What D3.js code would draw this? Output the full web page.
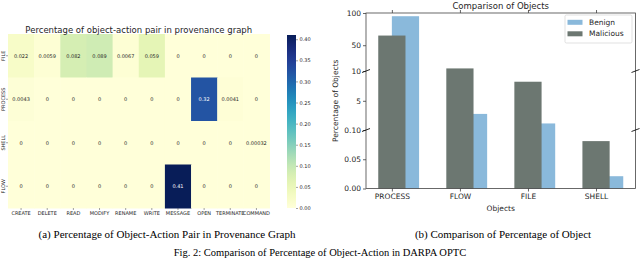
<!DOCTYPE html>
<html lang="en">
<head>
<meta charset="UTF-8">
<title>object-action heatmap and object comparison</title>
<script src="https://d3js.org/d3.v7.min.js"></script>
<style>
  body { margin: 0; background: #fff; }
  svg { display: block; }
  .sans { font-family: "DejaVu Sans", sans-serif; fill: #262626; }
  .serif { font-family: "Liberation Serif", "Times New Roman", serif; fill: #000; }
</style>
</head>
<body>
<svg width="640" height="259"></svg>
<script>
// heatmap data
const objectRows = ['FILE', 'PROCESS', 'SHELL', 'FLOW'];
const actions = ['CREATE', 'DELETE', 'READ', 'MODIFY', 'RENAME', 'WRITE', 'MESSAGE', 'OPEN', 'TERMINATE', 'COMMAND'];
const pairValues = [
  [0.022, 0.0059, 0.082, 0.089, 0.0067, 0.059, 0, 0, 0, 0],
  [0.0043, 0, 0, 0, 0, 0, 0, 0.32, 0.0041, 0],
  [0, 0, 0, 0, 0, 0, 0, 0, 0, 0.00032],
  [0, 0, 0, 0, 0, 0, 0.41, 0, 0, 0]
];
const colorbarTicks = [0, 0.05, 0.10, 0.15, 0.20, 0.25, 0.30, 0.35, 0.40];

// bar chart data
const objects = ['PROCESS', 'FLOW', 'FILE', 'SHELL'];
const benign = [95, 2.8, 1.2, 0.021];
const malicious = [65, 14, 8.2, 0.081];
const yTicks = [0, 0.05, 0.10, 5, 10, 50, 100];
const yTickLabels = ['0.00', '0.05', '0.10', '5', '10', '50', '100'];

const svg = d3.select('svg');

// ---------- (a) heatmap ----------
const hm = { left: 8, right: 269.5, top: 34, bottom: 208 };
const xHm = d3.scaleBand().domain(actions).range([hm.left, hm.right]);
const yHm = d3.scaleBand().domain(objectRows).range([hm.top, hm.bottom]);
const vmax = 0.41;
const color = d3.scaleSequential(d3.interpolateYlGnBu).domain([0, vmax]);
const fmt = d3.format('.2~g');

const cells = [];
pairValues.forEach((row, i) => row.forEach((v, j) => cells.push({ r: objectRows[i], c: actions[j], v })));

const gHm = svg.append('g');
gHm.selectAll('rect').data(cells).enter().append('rect')
  .attr('x', d => xHm(d.c))
  .attr('y', d => yHm(d.r))
  .attr('width', xHm.bandwidth() + 0.5)
  .attr('height', yHm.bandwidth() + 0.5)
  .attr('fill', d => color(d.v));

gHm.selectAll('text.ann').data(cells).enter().append('text')
  .attr('class', 'ann sans')
  .attr('x', d => xHm(d.c) + xHm.bandwidth() / 2)
  .attr('y', d => yHm(d.r) + yHm.bandwidth() / 2)
  .attr('text-anchor', 'middle')
  .attr('dominant-baseline', 'central')
  .style('font-size', '5px')
  .style('fill', d => d.v > 0.2 ? '#fff' : '#262626')
  .text(d => fmt(d.v));

const xAxisHm = d3.axisBottom(xHm).tickSize(2).tickPadding(1.5);
gHm.append('g')
  .attr('transform', 'translate(0,' + hm.bottom + ')')
  .call(xAxisHm)
  .call(g => g.select('.domain').remove())
  .call(g => g.selectAll('line').attr('stroke', '#444').attr('stroke-width', 0.5))
  .call(g => g.selectAll('text').attr('class', 'sans').style('font-size', '5px').attr('fill', '#262626'));

const yAxisHm = d3.axisLeft(yHm).tickSize(2).tickPadding(1);
gHm.append('g')
  .attr('transform', 'translate(' + hm.left + ',0)')
  .call(yAxisHm)
  .call(g => g.select('.domain').remove())
  .call(g => g.selectAll('line').attr('stroke', '#444').attr('stroke-width', 0.5))
  .call(g => g.selectAll('text').attr('class', 'sans').style('font-size', '5px').attr('fill', '#262626')
    .attr('text-anchor', 'middle').attr('dy', 0).attr('x', 0).attr('y', 0)
    .attr('transform', 'translate(-3.5,0) rotate(-90)'));

gHm.append('text').attr('class', 'sans')
  .attr('x', (hm.left + hm.right) / 2).attr('y', 32.5)
  .attr('text-anchor', 'middle')
  .style('font-size', '8.5px')
  .text('Percentage of object-action pair in provenance graph');

// colorbar
const cb = { x: 287, w: 9, top: 35, bottom: 208 };
const grad = svg.append('defs').append('linearGradient')
  .attr('id', 'cbgrad').attr('x1', 0).attr('y1', 1).attr('x2', 0).attr('y2', 0);
d3.range(0, 1.0001, 0.05).forEach(t => grad.append('stop')
  .attr('offset', t).attr('stop-color', color(t * vmax)));
svg.append('rect').attr('x', cb.x).attr('y', cb.top)
  .attr('width', cb.w).attr('height', cb.bottom - cb.top)
  .attr('fill', 'url(#cbgrad)');
const yCb = d3.scaleLinear().domain([0, vmax]).range([cb.bottom, cb.top]);
svg.append('g')
  .attr('transform', 'translate(' + (cb.x + cb.w) + ',0)')
  .call(d3.axisRight(yCb).tickValues(colorbarTicks).tickFormat(d3.format('.2f')).tickSize(2).tickPadding(1.5))
  .call(g => g.select('.domain').remove())
  .call(g => g.selectAll('line').attr('stroke', '#444').attr('stroke-width', 0.5))
  .call(g => g.selectAll('text').attr('class', 'sans').style('font-size', '5px').attr('fill', '#262626'));

// ---------- (b) bar chart ----------
const bc = { left: 366, right: 635.5, top: 13, bottom: 188.5 };
const xBar = d3.scaleLinear().domain([-0.38, 3.58]).range([bc.left, bc.right]);
const yBar = d3.scaleLinear().domain([0, 0.1, 10, 100]).range([bc.bottom, 130, 71, bc.top]);
const barW = xBar(0.4) - xBar(0);
const benignColor = '#8ab9db';
const maliciousColor = '#6c7771';

const gBar = svg.append('g');
gBar.selectAll('rect.benign').data(benign).enter().append('rect')
  .attr('class', 'benign')
  .attr('x', (d, i) => xBar(i))
  .attr('y', d => yBar(d))
  .attr('width', barW)
  .attr('height', d => bc.bottom - yBar(d))
  .attr('fill', benignColor);
gBar.selectAll('rect.malicious').data(malicious).enter().append('rect')
  .attr('class', 'malicious')
  .attr('x', (d, i) => xBar(i) - barW / 2)
  .attr('y', d => yBar(d))
  .attr('width', barW)
  .attr('height', d => bc.bottom - yBar(d))
  .attr('fill', maliciousColor);

// axes
gBar.append('g')
  .attr('transform', 'translate(0,' + bc.bottom + ')')
  .call(d3.axisBottom(xBar).tickValues(d3.range(objects.length)).tickFormat(i => objects[i]).tickSize(3).tickPadding(2))
  .call(g => g.select('.domain').remove())
  .call(g => g.selectAll('line').attr('stroke', '#222').attr('stroke-width', 0.7))
  .call(g => g.selectAll('text').attr('class', 'sans').style('font-size', '7.5px').attr('fill', '#262626'));

gBar.append('g')
  .attr('transform', 'translate(0,' + bc.top + ')')
  .call(d3.axisTop(xBar).tickValues(d3.range(objects.length)).tickFormat('').tickSize(3))
  .call(g => g.select('.domain').remove())
  .call(g => g.selectAll('line').attr('stroke', '#222').attr('stroke-width', 0.7));

gBar.append('g')
  .attr('transform', 'translate(' + bc.left + ',0)')
  .call(d3.axisLeft(yBar).tickValues(yTicks).tickFormat((d, i) => yTickLabels[i]).tickSize(3).tickPadding(2))
  .call(g => g.select('.domain').remove())
  .call(g => g.selectAll('line').attr('stroke', '#222').attr('stroke-width', 0.7))
  .call(g => g.selectAll('text').attr('class', 'sans').style('font-size', '7.5px').attr('fill', '#262626'));

// spines
gBar.append('rect')
  .attr('x', bc.left).attr('y', bc.top)
  .attr('width', bc.right - bc.left).attr('height', bc.bottom - bc.top)
  .attr('fill', 'none').attr('stroke', '#444').attr('stroke-width', 0.8);

// axis break marks
[0.1, 10].forEach(v => {
  [bc.left, bc.right].forEach(x => {
    gBar.append('line')
      .attr('x1', x - 4).attr('y1', yBar(v) + 1.5)
      .attr('x2', x + 4).attr('y2', yBar(v) - 1.5)
      .attr('stroke', '#111').attr('stroke-width', 0.9);
  });
});

gBar.append('text').attr('class', 'sans')
  .attr('x', (bc.left + bc.right) / 2).attr('y', 9)
  .attr('text-anchor', 'middle')
  .style('font-size', '8.5px')
  .text('Comparison of Objects');

gBar.append('text').attr('class', 'sans')
  .attr('x', (bc.left + bc.right) / 2).attr('y', 211)
  .attr('text-anchor', 'middle')
  .style('font-size', '7.5px')
  .text('Objects');

gBar.append('text').attr('class', 'sans')
  .attr('transform', 'translate(338,' + ((bc.top + bc.bottom) / 2) + ') rotate(-90)')
  .attr('text-anchor', 'middle')
  .style('font-size', '7.5px')
  .text('Percentage of Objects');

// legend
const lg = gBar.append('g').attr('transform', 'translate(565,15)');
lg.append('rect').attr('width', 67).attr('height', 28).attr('rx', 1.5)
  .attr('fill', '#fff').attr('fill-opacity', 0.85)
  .attr('stroke', '#ccc').attr('stroke-width', 0.6);
[['Benign', benignColor], ['Malicious', maliciousColor]].forEach(([name, c], i) => {
  lg.append('rect').attr('x', 2.5).attr('y', 7 + i * 11.5 - 2.2).attr('width', 15).attr('height', 5).attr('fill', c);
  lg.append('text').attr('class', 'sans')
    .attr('x', 24).attr('y', 7 + i * 11.5)
    .attr('dominant-baseline', 'central')
    .style('font-size', '7.5px')
    .text(name);
});

// captions
svg.append('text').attr('class', 'serif')
  .attr('x', 167).attr('y', 238).attr('text-anchor', 'middle')
  .style('font-size', '11px')
  .text('(a) Percentage of Object-Action Pair in Provenance Graph');
svg.append('text').attr('class', 'serif')
  .attr('x', 503).attr('y', 238).attr('text-anchor', 'middle')
  .style('font-size', '11px')
  .text('(b) Comparison of Percentage of Object');
svg.append('text').attr('class', 'serif')
  .attr('x', 320).attr('y', 255.5).attr('text-anchor', 'middle')
  .style('font-size', '10.5px')
  .text('Fig. 2:  Comparison of Percentage of Object-Action in DARPA OPTC');
</script>
</body>
</html>
